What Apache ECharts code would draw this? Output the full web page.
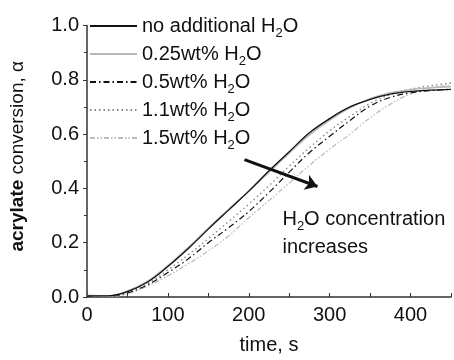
<!DOCTYPE html>
<html>
<head>
<meta charset="utf-8">
<script src="https://cdn.jsdelivr.net/npm/echarts@6/dist/echarts.min.js"></script>
<style>
html,body{margin:0;padding:0;background:#fff;}
#c{width:454px;height:360px;}
</style>
</head>
<body>
<div id="c"></div>
<script>
var timeS = [0,25,50,75,100,125,150,175,200,225,250,275,300,325,350,375,400,425,450];
var noWater  = [0.004,0.004,0.020,0.055,0.112,0.178,0.250,0.320,0.390,0.465,0.535,0.605,0.657,0.700,0.728,0.747,0.757,0.762,0.765];
var w025     = [0.006,0.003,0.022,0.058,0.116,0.182,0.254,0.323,0.390,0.460,0.530,0.597,0.652,0.697,0.730,0.752,0.764,0.771,0.775];
var w05      = [0.002,0.003,0.015,0.045,0.090,0.140,0.200,0.255,0.315,0.385,0.460,0.532,0.592,0.650,0.703,0.735,0.752,0.760,0.765];
var w11      = [0.004,0.004,0.018,0.050,0.100,0.155,0.215,0.278,0.342,0.410,0.482,0.550,0.612,0.665,0.713,0.745,0.765,0.778,0.788];
var w15      = [0.002,0.002,0.012,0.040,0.078,0.122,0.170,0.225,0.292,0.355,0.420,0.485,0.545,0.600,0.660,0.710,0.748,0.770,0.780];
var seriesNames = ['no additional H2O','0.25wt% H2O','0.5wt% H2O','1.1wt% H2O','1.5wt% H2O'];
var xTicks = [0,100,200,300,400];
var yTicks = [0.0,0.2,0.4,0.6,0.8,1.0];

function pairs(arr){ return timeS.map(function(t,i){ return [t, arr[i]]; }); }
function h2o(s){
  var parts = s.split('H2O');
  var out = '';
  for (var i=0;i<parts.length;i++){
    if (parts[i]) out += '{t|' + parts[i] + '}';
    if (i < parts.length-1) out += '{t|H}{s|2}{t|O}';
  }
  return out;
}
var FF = 'Liberation Sans, Arial, sans-serif';
var rich = {
  t:{fontSize:20, lineHeight:28, color:'#111', fontFamily:FF, verticalAlign:'middle'},
  s:{fontSize:13, lineHeight:10, color:'#111', fontFamily:FF, verticalAlign:'bottom'}
};
var styles = [
  {color:'#111111', width:1.3, type:'solid'},
  {color:'#b8b8b8', width:1.6, type:'solid'},
  {color:'#111111', width:1.2, type:[6,3,1.5,3]},
  {color:'#8a8a8a', width:1.4, type:[1.5,3]},
  {color:'#bdbdbd', width:1.3, type:[5,2,1.5,2,1.5,2]}
];
var dataSets = [noWater, w025, w05, w11, w15];
var series = dataSets.map(function(d,i){
  return {
    name: seriesNames[i], type:'line', data: pairs(d), smooth:0.4, showSymbol:false, symbol:'none',
    lineStyle: styles[i], itemStyle:{color: styles[i].color, opacity:0}, z: 5-i
  };
});
series[0].markLine = {
  silent:true, symbol:['none','arrow'], symbolSize:12,
  lineStyle:{color:'#111', width:3, type:'solid'},
  label:{show:false},
  data:[[{coord:[194.7,0.506]},{coord:[284.9,0.407]}]]
};
series[0].markPoint = {
  silent:true, symbol:'circle', symbolSize:1, itemStyle:{color:'rgba(0,0,0,0)', opacity:0},
  label:{show:true, position:'right', distance:0, align:'left', opacity:1,
    formatter: h2o('H2O concentration') + '\n{t|increases}', rich: rich},
  data:[{coord:[241,0.235]}]
};

var chart = echarts.init(document.getElementById('c'), null, {renderer:'canvas'});
chart.setOption({
  animation:false,
  backgroundColor:'#fff',
  grid:{left:80, right:0, top:25.5, bottom:62, containLabel:false},
  legend:{
    orient:'vertical', left:84, top:7, itemWidth:47, itemHeight:14, itemGap:0,
    data: seriesNames,
    itemStyle:{opacity:0, borderWidth:0},
    formatter: function(n){ return h2o(n); },
    textStyle:{fontSize:20, lineHeight:28, color:'#111', rich: rich}
  },
  xAxis:{
    type:'value', min:0, max:450, interval:50,
    name:'time, s', nameLocation:'middle', nameGap:38,
    nameTextStyle:{fontSize:20, color:'#111', fontFamily:FF},
    axisLine:{show:true, onZero:false, lineStyle:{color:'#333', width:1.5}},
    axisTick:{show:true, inside:true, length:4, lineStyle:{color:'#333', width:1}},
    axisLabel:{margin:8, fontSize:20, color:'#111', fontFamily:FF,
      formatter:function(v){ return xTicks.indexOf(v) >= 0 ? String(v) : ''; }},
    splitLine:{show:false}
  },
  yAxis:{
    type:'value', min:0, max:1.0, interval:0.2,
    name:'{b|acrylate} conversion, α', nameLocation:'middle', nameGap:60,
    nameTextStyle:{fontSize:19, color:'#111', fontFamily:FF, padding:[0,0,0,10],
      rich:{b:{fontWeight:'bold', fontSize:19, color:'#111', fontFamily:FF}}},
    axisLine:{show:true, onZero:false, lineStyle:{color:'#333', width:1.5}},
    axisTick:{show:true, inside:false, length:4, lineStyle:{color:'#333', width:1}},
    minorTick:{show:true, splitNumber:2, length:3, lineStyle:{color:'#333', width:1}},
    axisLabel:{margin:8, fontSize:20, color:'#111', fontFamily:FF,
      formatter:function(v){ return yTicks.some(function(t){return Math.abs(t-v)<1e-9;}) ? v.toFixed(1) : ''; }},
    splitLine:{show:false}
  },
  series: series
});
</script>
</body>
</html>
